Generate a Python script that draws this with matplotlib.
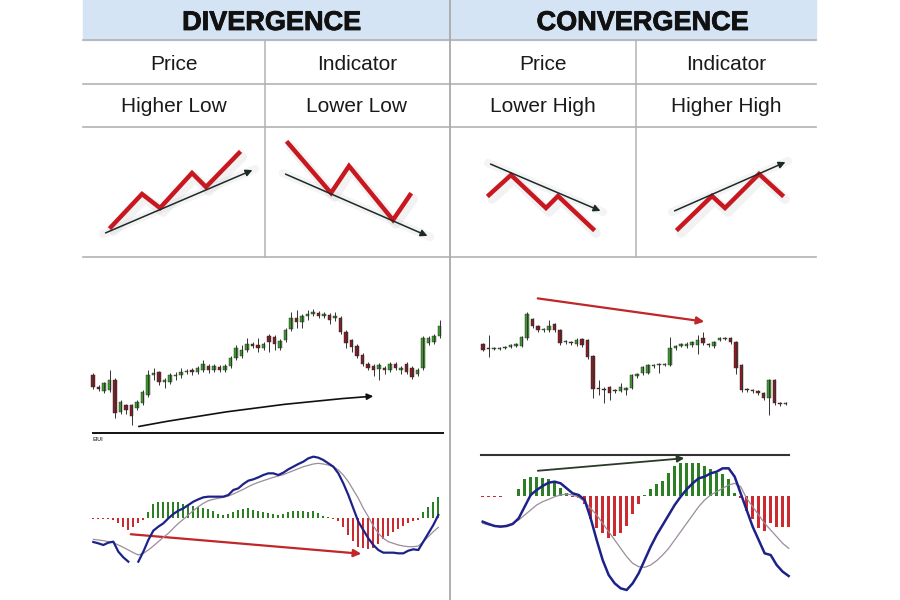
import numpy as np
import matplotlib.pyplot as plt
import matplotlib.patheffects as pe
from matplotlib.patches import Rectangle

plt.rcParams['font.family'] = ['Liberation Sans', 'DejaVu Sans']

# ---- table text
titles = ["DIVERGENCE", "CONVERGENCE"]
row1 = ["Price", "Indicator", "Price", "Indicator"]
row2 = ["Higher Low", "Lower Low", "Lower High", "Higher High"]

# ---- schematic zigzags (cell-local units, y up from cell bottom)
zz_x = [[28, 59, 77, 109, 123, 156],
        [23, 66, 84, 128, 145],
        [39, 61, 96, 108, 143],
        [42, 76, 89, 123, 146]]
zz_y = [[30, 63, 49, 84, 70, 104],
        [114, 64, 91, 37, 62],
        [62, 82, 49, 61, 28],
        [28, 61, 49, 83, 62]]
trend_x = [[20, 172], [18, 165], [38, 153], [36, 152]]
trend_y = [[23, 88], [84, 20], [94, 45], [45, 96]]

# ---- divergence price candles
opens_L = [65, 53, 49, 50, 60, 28, 35, 35, 32, 37, 45, 65, 68, 58, 58, 64, 65, 68, 70, 68,
           70, 74, 70, 73, 70, 74, 82, 84, 90, 96, 95, 92, 104, 103, 92, 100, 111, 122, 118, 124,
           126, 127, 124, 125, 122, 122, 108, 100, 94, 85, 76, 74, 71, 72, 70, 76, 70, 76, 72, 66,
           72, 97, 98, 104]
closes_L = [53, 51, 57, 60, 27, 38, 30, 24, 38, 48, 65, 67, 58, 60, 65, 65, 68, 69, 68, 72,
            76, 70, 74, 70, 74, 82, 92, 90, 96, 94, 92, 96, 98, 96, 99, 110, 122, 118, 124, 126,
            128, 124, 126, 120, 124, 108, 97, 93, 84, 76, 72, 70, 75, 70, 76, 72, 72, 68, 63, 70,
            102, 102, 104, 114]
highs_L = [67, 55, 58, 70, 62, 40, 36, 36, 40, 50, 70, 72, 69, 62, 67, 68, 72, 71, 72, 74,
           80, 76, 76, 75, 76, 84, 95, 95, 102, 98, 102, 98, 106, 105, 101, 112, 128, 130, 126, 130,
           131, 129, 128, 127, 128, 124, 110, 101, 96, 87, 78, 76, 77, 74, 78, 78, 74, 78, 74, 72,
           104, 104, 106, 120]
lows_L = [51, 49, 47, 48, 22, 26, 26, 15, 30, 35, 43, 60, 55, 52, 56, 60, 62, 66, 65, 66,
          68, 67, 68, 68, 68, 72, 80, 82, 88, 92, 88, 90, 88, 90, 90, 98, 109, 112, 112, 120,
          124, 122, 122, 116, 119, 106, 92, 88, 82, 74, 70, 64, 60, 66, 68, 70, 66, 66, 61, 64,
          70, 95, 96, 102]

# ---- convergence price candles
opens_R = [96, 92, 91, 91, 92, 93, 94, 94, 102, 121, 114, 110, 110, 116, 110, 98, 98, 96, 101, 100,
           84, 52, 51, 53, 50, 49, 50, 52, 64, 67, 67, 74, 75, 75, 75, 92, 94, 94, 95, 95,
           102, 96, 94, 100, 101, 102, 98, 75, 51, 50, 49, 47, 42, 60, 37, 36]
closes_R = [90, 91, 92, 92, 93, 95, 96, 103, 126, 114, 110, 111, 114, 110, 97, 99, 97, 100, 95, 83,
            51, 51, 50, 47, 49, 53, 52, 65, 66, 73, 75, 74.5, 76, 76, 92, 94, 96, 96, 98, 100,
            97, 95, 98, 102, 102, 98, 72, 50, 50, 49, 47, 42, 60, 37, 36, 37]
highs_R = [97, 105, 93, 93, 94, 96, 97, 104, 128, 122, 115, 112, 120, 117, 111, 100, 99, 102, 102, 101,
           85, 60, 53, 54, 51, 57, 53, 66, 67, 74, 76, 76, 77, 77, 103, 95, 97, 98, 99, 105,
           108, 97, 99, 103, 103, 103, 99, 76, 52, 51, 50, 48, 61, 61, 38, 38]
lows_R = [89, 83, 90, 90, 91, 92, 93, 93, 100, 112, 108, 108, 108, 108, 95, 96, 95, 94, 93, 81,
          42, 45, 37, 40, 47, 48, 45, 51, 62, 65, 66, 72, 67, 74, 74, 90, 93, 92, 93, 86,
          95, 93, 92, 99, 100, 96, 66, 48, 48, 47, 45, 40, 25, 35, 34, 35]

# ---- divergence MACD
hist_L = [-3, -3, -3, -2, -4, -15, -25, -35, -27, -15, -5, 20, 42, 50, 50, 48, 48, 48, 44, 40,
          38, 35, 32, 28, 22, 12, 10, 14, 20, 25, 28, 32, 26, 22, 18, 15, 12, 10, 12, 18,
          22, 22, 22, 20, 22, 15, 6, 3, -3, -8, -25, -50, -68, -85, -90, -92, -88, -78, -62, -52,
          -42, -32, -22, -14, -8, -5, 20, 35, 50, 65]
macd_L = [-71, -75, -80, -73, -70, -100, -117, -130, np.nan, -130, -100, -65, -37, -25, -15, 0, 13, 23, 30, 40,
          50, 57, 63, 65, 65, 65, 65, 70, 85, 90, 103, 113, 117, 123, 130, 135, 135, 130, 137, 147,
          155, 163, 170, 180, 185, 182, 175, 165, 155, 135, 105, 70, 30, -10, -35, -60, -80, -95, -103, -103,
          -103, -105, -105, -97, -93, -95, -70, -45, -20, 10]
signal_L = [-63, -65, -67, -70, -73, -80, -87, -95, -103, -110, -105, -95, -83, -70, -57, -45, -30, -15, -3, 10,
            23, 35, 45, 53, 57, 60, 63, 67, 73, 80, 87, 95, 102, 108, 113, 118, 123, 127, 131, 137,
            143, 149, 155, 159, 163, 165, 163, 160, 155, 145, 130, 110, 85, 60, 30, 5, -23, -45, -60, -70,
            -75, -80, -83, -85, -85, -83, -70, -55, -40, -27]

# ---- convergence MACD
hist_R = [-2, -2, -2, -2, -1, -1, 20, 50, 58, 58, 55, 50, 40, 25, 10, -3, -5, -25, -70, -95,
          -110, -125, -120, -110, -90, -55, -25, 3, 22, 35, 45, 68, 90, 98, 100, 98, 98, 90, 80, 70,
          65, 50, 10, -5, -45, -70, -95, -105, -80, -92, -92, -92]
macd_R = [-77, -84, -90, -92, -90, -84, -67, -32, 3, 18, 30, 40, 43, 38, 23, 8, 3, -12, -67, -132,
          -192, -237, -262, -277, -282, -262, -232, -192, -152, -117, -87, -57, -27, -2, 20, 38, 53, 58, 68, 73,
          83, 83, 58, 8, -42, -92, -132, -172, -177, -207, -227, -240]
signal_R = [-82, -87, -90, -90, -88, -82, -72, -57, -42, -27, -17, -10, -2, 3, 6, 3, -4, -17, -37, -57,
            -82, -107, -132, -157, -182, -202, -212, -214, -207, -194, -177, -157, -132, -107, -82, -57, -32, -12, 3, 13,
            23, 33, 38, 28, -7, -32, -57, -82, -102, -122, -142, -157]

RED = '#c8171e'
C_UP = '#3c9a2c'
C_DN = '#8a1c22'
H_UP = '#2d7f24'
H_DN = '#cc2a2e'
NAVY = '#1d2288'
SIG = '#9c8c9c'
GRID = '#b3b3b3'

fig = plt.figure(figsize=(9, 6), dpi=100)
bg = fig.add_axes([0, 0, 1, 1])
bg.set_xlim(0, 900)
bg.set_ylim(600, 0)
bg.axis('off')


def px_axes(x0, y0, x1, y1):
    ax = fig.add_axes([x0 / 900, 1 - y1 / 600, (x1 - x0) / 900, (y1 - y0) / 600])
    ax.axis('off')
    ax.patch.set_alpha(0)
    return ax


# table frame
bg.add_patch(Rectangle((83, 0), 733, 40, color='#d4e4f5', zorder=0))
for yy in [40, 84, 127, 257]:
    bg.plot([83, 816], [yy, yy], color=GRID, lw=1.2)
bg.plot([450, 450], [0, 600], color='#a9a9a9', lw=1.3)
for xx in [265, 636]:
    bg.plot([xx, xx], [40, 257], color=GRID, lw=1.1)

thick = [pe.withStroke(linewidth=0.6, foreground='#111')]
bg.text(272, 30, titles[0], fontsize=19.5, fontweight='bold', ha='center', va='baseline',
        color='#111', path_effects=thick)
bg.text(643, 30, titles[1], fontsize=19.5, fontweight='bold', ha='center', va='baseline',
        color='#111', path_effects=thick)
centers = [174, 357, 543, 726]
for cx, a, b in zip(centers, row1, row2):
    bg.text(cx, 70, a, fontsize=15, ha='center', va='baseline', color='#1a1a1a')
    bg.text(cx, 112, b, fontsize=15, ha='center', va='baseline', color='#1a1a1a')

# schematic cells
cells = [(83, 265), (265, 450), (450, 636), (636, 817)]
for k, (x0, x1) in enumerate(cells):
    ax = px_axes(x0, 128, x1, 257)
    ax.set_xlim(0, x1 - x0)
    ax.set_ylim(0, 129)
    tx, ty = trend_x[k], trend_y[k]
    ax.plot(np.array(zz_x[k]) + 3, np.array(zz_y[k]) - 4, color='#999', lw=7, alpha=0.12,
            solid_capstyle='round')
    ax.plot(tx, ty, color='#aaa', lw=6, alpha=0.12, solid_capstyle='round')
    ax.annotate('', xy=(tx[1], ty[1]), xytext=(tx[0], ty[0]),
                arrowprops=dict(arrowstyle='-|>', color='#1e2a2a', lw=1.1, mutation_scale=10))
    ax.plot(zz_x[k], zz_y[k], color=RED, lw=3.2, solid_joinstyle='miter')


def candles(ax, o, c, h, l, w):
    for i in range(len(o)):
        col = C_UP if c[i] >= o[i] else C_DN
        ax.vlines(i, l[i], h[i], color='#333', lw=0.7)
        body = max(abs(c[i] - o[i]), 1.0)
        ax.bar(i, body, bottom=min(o[i], c[i]), width=w, color=col, edgecolor='#222', lw=0.3)


# divergence price
axL = px_axes(83, 280, 450, 440)
axL.set_xlim((83 - 93) / 5.5, (450 - 93) / 5.5)
axL.set_ylim(0, 160)
candles(axL, opens_L, closes_L, highs_L, lows_L, 0.62)
bg.annotate('', xy=(376, 396), xytext=(136, 427),
            arrowprops=dict(arrowstyle='-|>', color='#111', lw=1.2, mutation_scale=9,
                            connectionstyle='arc3,rad=-0.03'))
bg.plot([93, 443], [433, 433], color='#111', lw=1.4)
bg.text(93, 441, 'EIUI', fontsize=4, color='#555', fontweight='bold')

# convergence price
axR = px_axes(450, 280, 817, 440)
axR.set_xlim((450 - 483) / 5.5, (817 - 483) / 5.5)
axR.set_ylim(0, 160)
candles(axR, opens_R, closes_R, highs_R, lows_R, 0.62)
bg.annotate('', xy=(707, 322), xytext=(535, 298),
            arrowprops=dict(arrowstyle='-|>', color='#c0262a', lw=1.6, mutation_scale=11))

# divergence MACD
mL = px_axes(83, 440, 450, 600)
mL.set_xlim((83 - 93.33) / 5, (450 - 93.33) / 5)
mL.set_ylim(-245, 235)
iL = np.arange(len(hist_L))
mL.bar(iL, hist_L, width=0.36, color=[H_UP if v > 0 else H_DN for v in hist_L])
mL.plot(np.arange(len(signal_L)), signal_L, color=SIG, lw=0.9)
mL.plot(np.arange(len(macd_L)), macd_L, color=NAVY, lw=1.6)
bg.annotate('', xy=(364, 554), xytext=(128, 534),
            arrowprops=dict(arrowstyle='-|>', color='#c0262a', lw=1.6, mutation_scale=11))

# convergence MACD
mR = px_axes(450, 440, 817, 600)
mR.set_xlim((450 - 482.67) / 6, (817 - 482.67) / 6)
mR.set_ylim(-312, 168)
iR = np.arange(len(hist_R))
mR.bar(iR, hist_R, width=0.5, color=[H_UP if v > 0 else H_DN for v in hist_R])
mR.plot(np.arange(len(signal_R)), signal_R, color=SIG, lw=0.9)
mR.plot(np.arange(len(macd_R)), macd_R, color=NAVY, lw=1.8)
bg.plot([481, 789], [455, 455], color='#333', lw=1.5)
bg.annotate('', xy=(687, 458), xytext=(535, 471),
            arrowprops=dict(arrowstyle='-|>', color='#2a3a2a', lw=1.3, mutation_scale=10))

fig.savefig('out.png', dpi=100)
